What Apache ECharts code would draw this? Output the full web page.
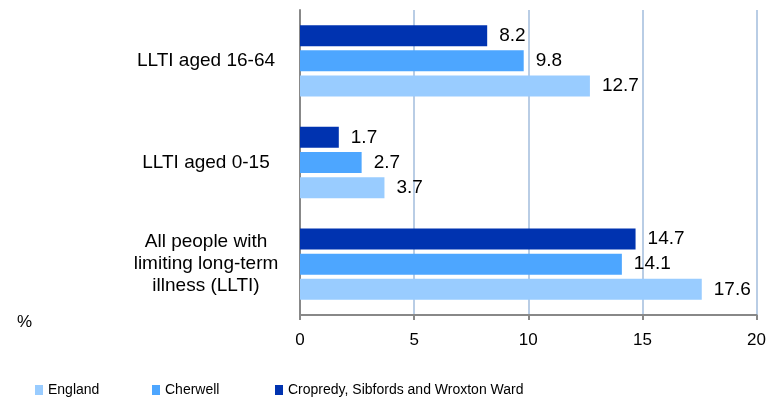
<!DOCTYPE html>
<html>
<head>
<meta charset="utf-8">
<script src="https://cdn.jsdelivr.net/npm/echarts@6/dist/echarts.min.js"></script>
<style>html,body{margin:0;padding:0;background:#fff}#c{width:769px;height:400px}</style>
</head>
<body>
<div id="c"></div>
<script>
const categories = ['All people with\nlimiting long-term\nillness (LLTI)', 'LLTI aged 0-15', 'LLTI aged 16-64'];
const england = [17.6, 3.7, 12.7];
const cherwell = [14.1, 2.7, 9.8];
const cropredy = [14.7, 1.7, 8.2];
const xTicks = [0, 5, 10, 15, 20];
const seriesNames = ['England', 'Cherwell', 'Cropredy, Sibfords and Wroxton Ward'];
const colors = ['#99CCFF', '#4DA6FF', '#0033B0'];

const font = 'Liberation Sans, Arial, sans-serif';
const chart = echarts.init(document.getElementById('c'));
const mk = (name, data, color) => ({
  name, type: 'bar', data, barWidth: 21, barGap: '20%', barCategoryGap: '30%',
  itemStyle: { color },
  label: { show: true, position: 'right', distance: 12, color: '#000', fontSize: 19, fontFamily: font,
    formatter: p => p.value.toFixed(1) }
});
const legendBase = { top: 378, itemWidth: 8, itemHeight: 10, itemGap: 6,
  textStyle: { fontSize: 14, fontFamily: font, color: '#000' }, icon: 'rect', selectedMode: false };
chart.setOption({
  animation: false,
  grid: { left: 300, right: 11, top: 10, bottom: 85, containLabel: false },
  xAxis: {
    type: 'value', min: xTicks[0], max: xTicks[xTicks.length - 1], interval: 5,
    axisLine: { show: true, lineStyle: { color: '#888', width: 2 } },
    axisTick: { show: true, length: 5, lineStyle: { color: '#888', width: 2 } },
    axisLabel: { fontSize: 17, fontFamily: font, color: '#000', margin: 17 },
    splitLine: { show: true, lineStyle: { color: '#B9CDE5', width: 2 } }
  },
  yAxis: {
    type: 'category', data: categories,
    axisLine: { show: true, lineStyle: { color: '#888', width: 2 } },
    axisTick: { show: false },
    axisLabel: { fontSize: 19, fontFamily: font, color: '#000', align: 'center', margin: 94, lineHeight: 22 }
  },
  legend: [
    Object.assign({}, legendBase, { left: 30, data: [seriesNames[0]] }),
    Object.assign({}, legendBase, { left: 147, data: [seriesNames[1]] }),
    Object.assign({}, legendBase, { left: 270, data: [seriesNames[2]] })
  ],
  graphic: [{ type: 'text', left: 17, top: 314, style: { text: '%', fontSize: 17, fontFamily: font, fill: '#000' } }],
  series: [mk(seriesNames[2], cropredy, colors[2]), mk(seriesNames[1], cherwell, colors[1]), mk(seriesNames[0], england, colors[0])]
});
</script>
</body>
</html>
